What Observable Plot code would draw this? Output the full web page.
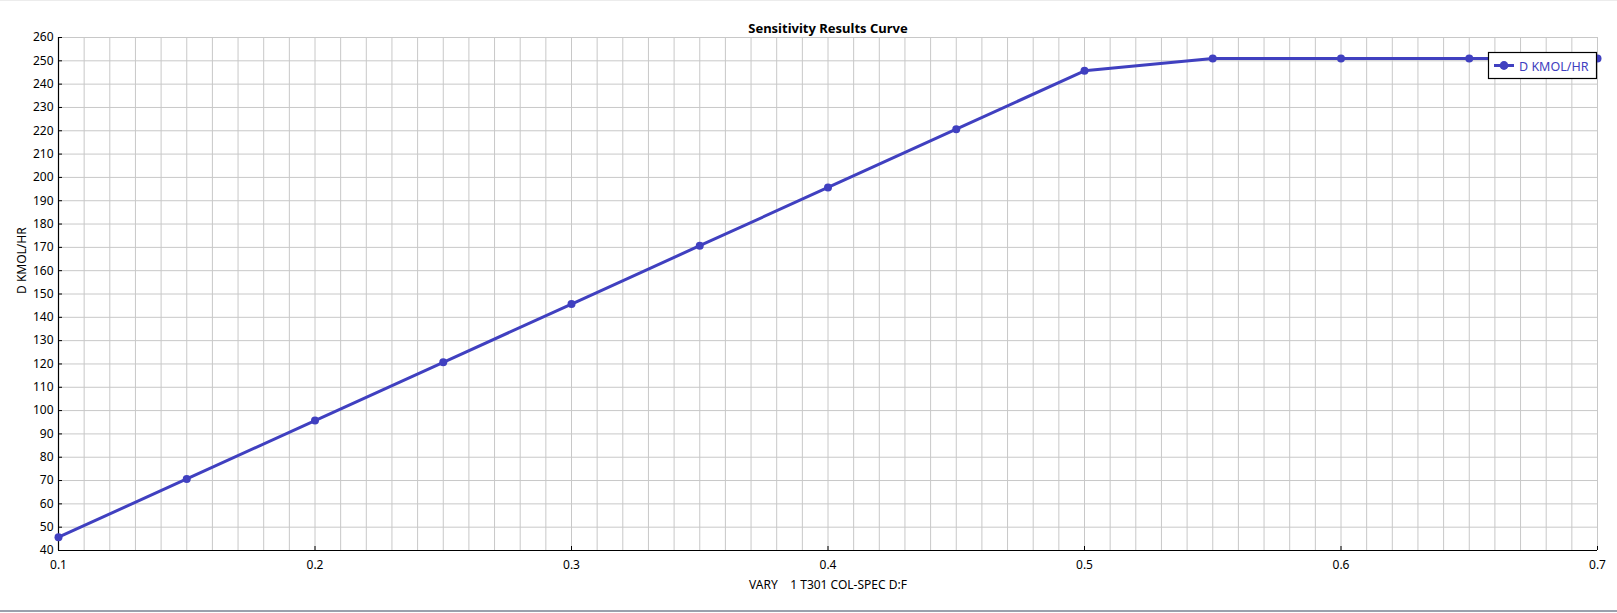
<!DOCTYPE html>
<html>
<head>
<meta charset="utf-8">
<script src="https://cdn.jsdelivr.net/npm/d3@7"></script>
<script src="https://cdn.jsdelivr.net/npm/@observablehq/plot@0.6"></script>
<style>
  html, body { margin: 0; padding: 0; background: #fff; }
  body { width: 1617px; height: 613px; position: relative; overflow: hidden; font-family: "Noto Sans", sans-serif; }
  #frameTop { position: absolute; left: 0; top: 0; width: 1617px; height: 1px; background: #ececec; }
  #frameBottom { position: absolute; left: 0; top: 610px; width: 1617px; height: 2px; background: #9ba0ad; }
</style>
</head>
<body>
<div id="chart"></div>
<div id="frameTop"></div>
<div id="frameBottom"></div>
<script>
const title = "Sensitivity Results Curve";
const xLabel = "VARY    1 T301 COL-SPEC D:F";
const yLabel = "D KMOL/HR";
const seriesName = "D KMOL/HR";
const xValues = [0.1, 0.15, 0.2, 0.25, 0.3, 0.35, 0.4, 0.45, 0.5, 0.55, 0.6, 0.65, 0.7];
const yValues = [45.7, 70.7, 95.7, 120.7, 145.7, 170.7, 195.7, 220.7, 245.7, 251, 251, 251, 251];
const xTicks = [0.1, 0.2, 0.3, 0.4, 0.5, 0.6, 0.7];
const yTicks = [40, 50, 60, 70, 80, 90, 100, 110, 120, 130, 140, 150, 160, 170, 180, 190, 200, 210, 220, 230, 240, 250, 260];
const xGrid = d3.range(0, 61).map(i => +(0.1 + i * 0.01).toFixed(2));

const color = "#4040c0";
const data = xValues.map((x, i) => ({x, y: yValues[i]}));

const W = 1617, H = 613;
const mL = 58, mR = 20, mT = 37, mB = 63;

const chart = Plot.plot({
  width: W,
  height: H,
  marginLeft: mL,
  marginRight: mR,
  marginTop: mT,
  marginBottom: mB,
  style: {fontFamily: "Noto Sans, sans-serif", fontSize: "12px", color: "#000", background: "#fff"},
  x: {domain: [0.1, 0.7], label: null},
  y: {domain: [40, 260], label: null},
  marks: [
    Plot.gridX(xGrid, {stroke: "#c8c8c8", strokeOpacity: 1, strokeWidth: 1}),
    Plot.gridY(yTicks, {stroke: "#c8c8c8", strokeOpacity: 1, strokeWidth: 1}),
    Plot.ruleX([0.1], {stroke: "#000", strokeWidth: 1.2}),
    Plot.ruleY([40], {stroke: "#000", strokeWidth: 1.2}),
    Plot.axisX({ticks: xTicks, tickSize: -4, tickFormat: () => "", stroke: "#000"}),
    Plot.axisX({ticks: xTicks, tickSize: 0, tickPadding: 10, tickFormat: d => String(d), fontSize: 12, fill: "#000", label: null}),
    Plot.axisY({ticks: yTicks, tickSize: -4, tickFormat: () => "", stroke: "#000"}),
    Plot.axisY({ticks: yTicks, tickSize: 0, tickPadding: 5, tickFormat: d => String(d), fontSize: 12, fill: "#000", label: null}),
    Plot.line(data, {x: "x", y: "y", stroke: color, strokeWidth: 3}),
    Plot.dot(data, {x: "x", y: "y", r: 4, fill: color, stroke: "none"}),
    Plot.text([title], {frameAnchor: "top", dy: -14, fontWeight: "bold", fontSize: 13, fill: "#000", text: d => d}),
    Plot.text([xLabel], {frameAnchor: "bottom", dy: 38, fontSize: 12, fill: "#000", text: d => d}),
    Plot.text([yLabel], {frameAnchor: "left", dx: -36, rotate: -90, fontSize: 12, fill: "#000", text: d => d})
  ]
});
document.getElementById("chart").appendChild(chart);

const svg = d3.select(chart);
svg.selectAll("text").attr("xml:space", "preserve").style("white-space", "pre");

// Legend box inside plot area, top-right
const lg = svg.append("g").attr("transform", `translate(1488,52)`).attr("text-anchor", "start");
lg.append("rect").attr("x", 0.5).attr("y", 0.5).attr("width", 108).attr("height", 26)
  .attr("fill", "#fff").attr("stroke", "#000").attr("stroke-width", 1.2);
lg.append("line").attr("x1", 6).attr("x2", 26).attr("y1", 13.5).attr("y2", 13.5)
  .attr("stroke", color).attr("stroke-width", 3);
lg.append("circle").attr("cx", 16).attr("cy", 13.5).attr("r", 4.4).attr("fill", color);
lg.append("text").attr("x", 31).attr("y", 18.5).attr("font-size", 12.5).attr("text-anchor", "start")
  .attr("font-family", "Noto Sans, sans-serif").attr("fill", color).text(seriesName);
</script>
</body>
</html>
